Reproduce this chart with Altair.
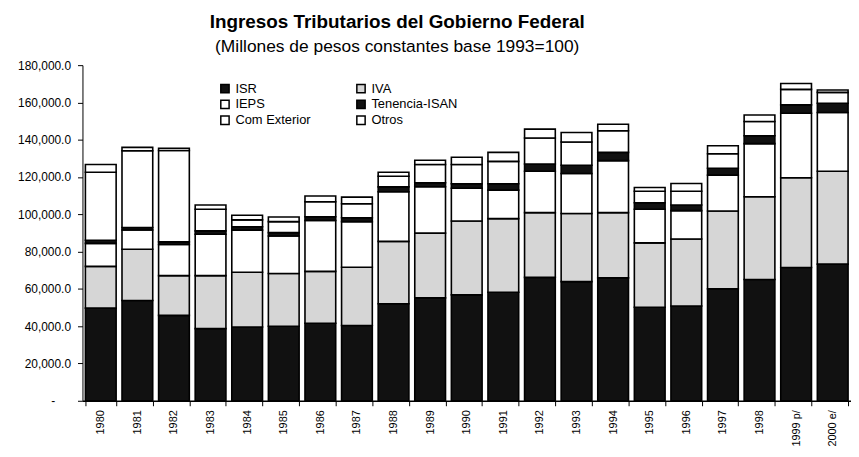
import altair as alt
import pandas as pd

years = ["1980", "1981", "1982", "1983", "1984", "1985", "1986", "1987", "1988", "1989",
         "1990", "1991", "1992", "1993", "1994", "1995", "1996", "1997", "1998", "1999 p/", "2000 e/"]
series = ["ISR", "IVA", "IEPS", "Tenencia-ISAN", "Com Exterior", "Otros"]

isr = [49700, 53800, 45800, 38700, 39600, 40000, 41600, 40400, 52000, 55200, 56800,
       58200, 66200, 63900, 65900, 50200, 50800, 60000, 65000, 71500, 73300]
iva = [22400, 27500, 21300, 28400, 29300, 28300, 27800, 31200, 33500, 34700, 39600,
       39500, 34700, 36500, 35000, 34500, 36000, 41800, 44400, 48100, 49800]
ieps = [12300, 10300, 16700, 22200, 22600, 20100, 27300, 24500, 26600, 24900, 17600,
        15300, 22200, 21500, 27900, 18000, 15200, 19200, 28500, 34600, 31500]
tenencia = [1700, 1300, 1400, 1800, 1800, 1800, 2000, 2100, 2600, 2100, 2400,
            3400, 3900, 4400, 4400, 3500, 3000, 3700, 4200, 4500, 5000]
com_ext = [36500, 41200, 49000, 11600, 3700, 5900, 8000, 7500, 5700, 9800, 10300,
           12000, 13900, 12500, 11600, 6200, 7400, 7800, 7700, 8300, 5800]
otros = [4100, 1800, 1200, 2300, 2500, 2500, 3100, 3500, 2200, 2300, 3900,
         4800, 4800, 5100, 3500, 2000, 4100, 4300, 3500, 3200, 1300]

fills = ["#111111", "#d6d6d6", "#ffffff", "#111111", "#ffffff", "#ffffff"]
y_ticks = [0, 20000, 40000, 60000, 80000, 100000, 120000, 140000, 160000, 180000]

rows = []
for si, (name, vals) in enumerate(zip(series, [isr, iva, ieps, tenencia, com_ext, otros])):
    for yr, v in zip(years, vals):
        rows.append({"anio": yr, "serie": name, "orden": si, "valor": v})
df = pd.DataFrame(rows)

font = "Liberation Sans"

chart = alt.Chart(df).mark_bar(stroke="black", strokeWidth=1.6).encode(
    x=alt.X("anio:N", sort=years, title=None,
            scale=alt.Scale(paddingInner=0.16, paddingOuter=0.08),
            axis=alt.Axis(labelAngle=-90, tickBand="extent", labelFontSize=11, labelFont=font,
                          labelColor="black", domainColor="black", domainWidth=1.5,
                          tickColor="black", tickSize=5, labelPadding=4)),
    y=alt.Y("valor:Q", stack="zero", title=None,
            scale=alt.Scale(domain=[0, 180000], nice=False),
            axis=alt.Axis(values=y_ticks, grid=False, minExtent=75, maxExtent=75,
                          labelExpr="datum.value == 0 ? '-' : format(datum.value, ',.1f')",
                          labelPadding={"condition": {"test": "datum.value == 0", "value": 23},
                                        "value": 7},
                          labelFontSize=12, labelFont=font, labelColor="black",
                          domainColor="black", tickColor="black", tickSize=5)),
    color=alt.Color("serie:N", sort=series, scale=alt.Scale(domain=series, range=fills),
                    legend=alt.Legend(title=None, orient="none", legendX=137, legendY=17,
                                      direction="horizontal", columns=2, columnPadding=43,
                                      rowPadding=1,
                                      symbolType="square", symbolSize=70,
                                      symbolStrokeColor="black", symbolStrokeWidth=1.5,
                                      symbolOpacity=1, labelFontSize=13, labelFont=font,
                                      labelColor="black", labelOffset=4)),
    order=alt.Order("orden:Q", sort="ascending"),
).properties(
    width=774,
    height=338,
    padding={"left": 0, "top": 3, "right": 0, "bottom": 0},
    background="white",
    title=alt.Title(text="Ingresos Tributarios del Gobierno Federal",
                    subtitle="(Millones de pesos constantes base 1993=100)",
                    fontSize=19, subtitleFontSize=17.5, font=font, subtitleFont=font,
                    fontWeight="bold", color="black", subtitleColor="black",
                    anchor="middle", frame="group", dx=-70, offset=4, subtitlePadding=6),
).configure_view(strokeWidth=0)

chart.save("out.html", embed_options={"renderer": "svg", "actions": False})
